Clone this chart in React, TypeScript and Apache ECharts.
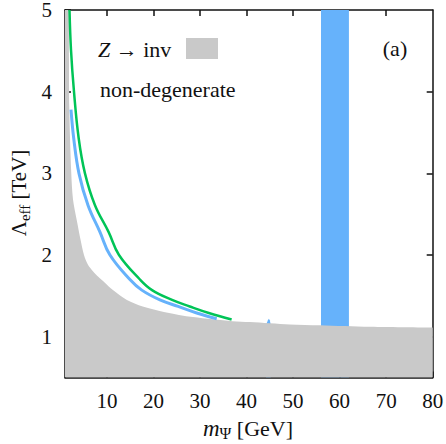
import React, { useEffect, useRef } from "react";
import * as echarts from "echarts";

const xTicks = [10, 20, 30, 40, 50, 60, 70, 80];
const yTicks = [1, 2, 3, 4, 5];

// Z -> inv excluded region (upper boundary of grey area)
const zInvBoundary: number[][] = [
  [1, 6], [1.79, 5.0], [1.86, 4.39], [1.92, 3.8], [2.35, 3.0], [2.72, 2.68], [3.58, 2.41],
  [4.33, 2.19], [5.08, 2.0], [5.94, 1.88], [7.0, 1.8], [8.2, 1.73], [9.4, 1.67],
  [11.3, 1.57], [14.3, 1.45], [17.7, 1.37], [22.5, 1.3], [28.5, 1.24], [37.0, 1.19],
  [40.7, 1.18], [49.3, 1.15], [55.7, 1.14], [66.5, 1.12], [80, 1.11],
];

// non-degenerate curves
const blueCurve: number[][] = [
  [2.29, 3.78], [2.87, 3.43], [4.0, 3.0], [5.94, 2.61], [8.52, 2.28], [10.66, 2.0],
  [14.95, 1.7], [17.5, 1.57], [21.4, 1.45], [25.3, 1.37], [29.3, 1.29], [33.6, 1.22],
];
const greenCurve: number[][] = [
  [1.97, 5.0], [2.29, 4.51], [2.93, 4.0], [3.94, 3.43], [5.29, 3.0], [7.44, 2.61],
  [10.38, 2.28], [12.6, 2.0], [17.1, 1.7], [19.7, 1.57], [24.0, 1.45], [27.8, 1.37],
  [31.9, 1.29], [36.8, 1.21],
];
const blueSpike: number[][] = [
  [44.2, 1.15], [44.6, 1.2], [44.8, 1.22], [45.0, 1.2], [45.2, 1.15],
];
const blueBand: number[][] = [
  [56.0, 5], [62.0, 5],
];

const GRAY = "#c9c9c9";
const BLUE = "#66b2fb";
const GREEN = "#00c457";
const FONT = "Liberation Serif";

export default function App() {
  const ref = useRef<HTMLDivElement>(null);
  useEffect(() => {
    if (!ref.current) return;
    const chart = echarts.init(ref.current, null, { renderer: "svg" });
    const axisLine = { show: true, lineStyle: { color: "#111", width: 1.5 } };
    const tick = (vals: number[]) => ({
      show: true,
      inside: true,
      length: 6,
      customValues: vals,
      lineStyle: { color: "#111", width: 1.5 },
    });
    const label = { color: "#111", fontFamily: FONT, fontSize: 21 };
    chart.setOption({
      animation: false,
      backgroundColor: "#fff",
      grid: { left: 65, right: 13.3, top: 10, bottom: 66.5, containLabel: false, outerBoundsMode: "none" },
      xAxis: [
        {
          type: "value", min: 1, max: 80, position: "bottom",
          axisLine, axisTick: tick(xTicks),
          axisLabel: { ...label, customValues: xTicks, margin: 13 },
          splitLine: { show: false },
        },
        {
          type: "value", min: 1, max: 80, position: "top",
          axisLine, axisTick: tick(xTicks.slice(0, -1)),
          axisLabel: { show: false }, splitLine: { show: false },
        },
      ],
      yAxis: [
        {
          type: "value", min: 0.5, max: 5, position: "left",
          axisLine, axisTick: tick(yTicks),
          axisLabel: { ...label, customValues: yTicks, margin: 13 },
          splitLine: { show: false },
        },
        {
          type: "value", min: 0.5, max: 5, position: "right",
          axisLine, axisTick: tick(yTicks.slice(0, -1)),
          axisLabel: { show: false }, splitLine: { show: false },
        },
      ],
      series: [
        {
          type: "line", data: blueBand, symbol: "none", z: 1,
          lineStyle: { width: 0 }, areaStyle: { color: BLUE, opacity: 1, origin: "start" },
        },
        {
          type: "line", data: blueSpike, symbol: "none", z: 1,
          lineStyle: { width: 0 }, areaStyle: { color: BLUE, opacity: 1, origin: "start" },
        },
        {
          type: "line", data: zInvBoundary, symbol: "none", z: 2, smooth: 0.3,
          lineStyle: { width: 0 }, areaStyle: { color: GRAY, opacity: 1, origin: "start" },
        },
        {
          type: "line", data: blueCurve, symbol: "none", z: 3, smooth: 0.4,
          lineStyle: { width: 3, color: BLUE },
        },
        {
          type: "line", data: greenCurve, symbol: "none", z: 4, smooth: 0.4,
          lineStyle: { width: 2.5, color: GREEN },
        },
      ],
      graphic: [
        {
          type: "text", x: 98, y: 49, z: 10,
          style: {
            text: "{i|Z} → inv", fill: "#111", fontFamily: FONT, fontSize: 22,
            verticalAlign: "middle", align: "left",
            rich: { i: { fontStyle: "italic", fontFamily: FONT, fontSize: 22 } },
          },
        },
        {
          type: "rect", z: 10, shape: { x: 186, y: 38, width: 32, height: 21 },
          style: { fill: GRAY },
        },
        {
          type: "text", x: 100, y: 89, z: 10,
          style: {
            text: "non-degenerate", fill: "#111", fontFamily: FONT, fontSize: 22,
            verticalAlign: "middle", align: "left",
          },
        },
        {
          type: "text", x: 395, y: 48, z: 10,
          style: {
            text: "(a)", fill: "#111", fontFamily: FONT, fontSize: 22,
            verticalAlign: "middle", align: "center",
          },
        },
        {
          type: "text", x: 248, y: 428, z: 10,
          style: {
            text: "{i|m}{s|Ψ}{n| [GeV]}", fill: "#111", fontFamily: FONT, fontSize: 22,
            align: "center", verticalAlign: "middle",
            rich: {
              i: { fontStyle: "italic", fontFamily: FONT, fontSize: 23, lineHeight: 26, verticalAlign: "middle" },
              s: { fontFamily: FONT, fontSize: 16, lineHeight: 16, verticalAlign: "bottom" },
              n: { fontFamily: FONT, fontSize: 22, lineHeight: 26, verticalAlign: "middle" },
            },
          },
        },
        {
          type: "text", x: 19, y: 193, z: 10, rotation: Math.PI / 2,
          style: {
            text: "{n|Λ}{s|eff}{n| [TeV]}", fill: "#111", fontFamily: FONT, fontSize: 21,
            align: "center", verticalAlign: "middle",
            rich: {
              n: { fontFamily: FONT, fontSize: 21, lineHeight: 26, verticalAlign: "middle" },
              s: { fontFamily: FONT, fontSize: 15, lineHeight: 15, verticalAlign: "bottom" },
            },
          },
        },
      ],
    });
    return () => chart.dispose();
  }, []);
  return <div ref={ref} style={{ position: "fixed", left: 0, top: 0, width: 446, height: 444 }} />;
}
